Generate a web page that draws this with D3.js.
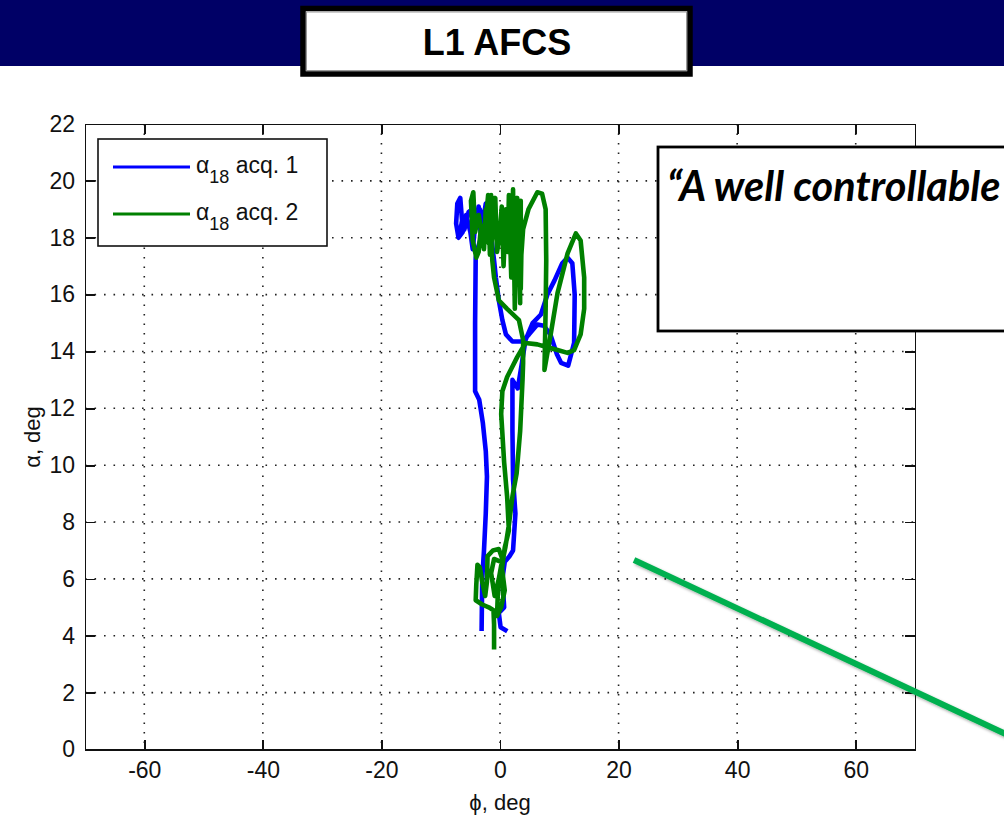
<!DOCTYPE html>
<html lang="en">
<head>
<meta charset="utf-8">
<title>L1 AFCS</title>
<script src="https://d3js.org/d3.v7.min.js"></script>
<style>
  body { margin: 0; background: #fff; }
  svg { display: block; font-family: "Liberation Sans", Arial, sans-serif; }
  .axis path, .axis line { stroke: #111; stroke-width: 1.8; shape-rendering: crispEdges; }
  .axis text { font-size: 23px; fill: #111; font-family: "Liberation Sans", Arial, sans-serif; }
  .grid line { stroke: #222; stroke-width: 1.6; stroke-dasharray: 1.6 7.9; }
</style>
</head>
<body>
<svg id="chart" width="1004" height="826"></svg>
<script>
// tick values
var xTicks = [-60, -40, -20, 0, 20, 40, 60];
var yTicks = [0, 2, 4, 6, 8, 10, 12, 14, 16, 18, 20, 22];

// series labels
var seriesNames = ["acq. 1", "acq. 2"];
var seriesColors = ["#0000ff", "#008000"];

// alpha_18 acq. 1  [phi, alpha]
var acq1 = [
  [0.9, 4.2], [0.1, 4.3], [-0.2, 4.8], [0.7, 5.0], [0.4, 6.0], [0.8, 6.6], [1.6, 6.8],
  [2.2, 7.0], [2.6, 8.3], [2.2, 9.5], [2.1, 11.2], [2.1, 13.0], [3.0, 12.7], [3.7, 13.6],
  [4.3, 14.4], [5.5, 15.0], [6.9, 15.3], [8.0, 16.0], [9.2, 16.5], [10.5, 17.1], [11.4, 17.3],
  [12.2, 17.1], [12.6, 16.0], [12.5, 14.3], [11.5, 13.5], [10.3, 13.6], [9.6, 13.9], [8.5, 14.6],
  [7.4, 14.9], [6.3, 14.95], [4.9, 14.6], [3.8, 14.35], [2.1, 14.35], [1.0, 14.6], [0.4, 15.1],
  [-0.2, 15.8], [-0.7, 16.6], [-1.0, 17.2], [-1.8, 18.6], [-2.4, 19.2], [-2.9, 18.5], [-3.4, 19.0],
  [-4.2, 18.4], [-4.6, 17.6], [-5.0, 18.2], [-5.7, 18.8], [-6.3, 18.2], [-7.0, 18.0], [-7.4, 18.5],
  [-7.2, 19.2], [-6.7, 19.4], [-6.4, 18.6], [-6.8, 18.1], [-6.0, 18.3], [-5.3, 18.9], [-4.7, 19.0],
  [-4.2, 18.4], [-3.6, 19.1], [-3.2, 18.0], [-3.8, 17.6], [-4.1, 17.3], [-4.2, 15.0], [-4.2, 12.6],
  [-3.5, 12.3], [-2.9, 11.5], [-2.4, 10.5], [-2.2, 9.6], [-2.4, 8.3], [-2.7, 7.0], [-3.0, 6.0],
  [-3.1, 4.25]
];

// alpha_18 acq. 2  [phi, alpha]
var acq2 = [
  [-1.0, 3.6], [-1.0, 4.4], [-1.1, 4.9], [-1.9, 5.0], [-3.0, 5.1], [-4.1, 5.25], [-4.0, 5.8],
  [-3.8, 6.5], [-3.4, 6.4], [-3.0, 5.9], [-2.5, 5.4], [-2.2, 5.9], [-2.1, 6.8], [-1.2, 7.0],
  [-0.2, 7.05], [0.4, 6.7], [-0.2, 6.0], [-0.9, 5.4], [-1.5, 6.2], [-1.0, 6.7], [0.2, 6.6],
  [0.8, 5.6], [0.2, 5.0], [-0.5, 4.7], [-0.3, 5.9], [0.9, 7.1], [1.5, 7.9], [2.1, 8.9],
  [2.8, 9.7], [3.4, 11.2], [3.8, 13.0], [3.9, 13.6], [3.9, 14.4], [3.2, 15.1], [1.2, 15.5],
  [-0.2, 15.8], [-1.0, 16.6], [-1.3, 17.2], [-1.6, 18.6], [-1.5, 19.5], [-1.9, 17.8], [-2.4, 19.0],
  [-2.7, 17.6], [-3.2, 18.4], [-3.6, 17.5], [-4.0, 17.3], [-4.6, 17.9], [-4.9, 19.3], [-4.5, 19.6],
  [-4.2, 18.2], [-3.6, 18.8], [-3.0, 18.1], [-2.4, 18.6], [-2.0, 19.5], [-1.7, 17.4], [-1.2, 18.2],
  [-0.8, 19.4], [-0.5, 17.5], [-0.1, 18.0], [0.3, 19.1], [0.6, 17.0], [1.0, 19.0], [1.3, 17.5],
  [1.5, 19.5], [1.9, 16.6], [2.2, 19.7], [2.5, 15.5], [2.6, 18.0], [2.9, 19.4], [3.2, 17.0],
  [3.4, 15.7], [3.3, 18.2], [3.5, 19.3], [3.5, 16.2], [3.6, 17.4], [3.9, 18.3], [4.8, 19.0],
  [6.3, 19.6], [7.1, 19.55], [7.7, 19.0], [7.8, 17.2], [7.7, 15.5], [7.5, 13.35], [8.55, 14.6],
  [9.7, 16.05], [11.4, 17.45], [12.8, 18.15], [13.6, 17.9], [14.2, 16.6], [14.2, 15.5], [13.6, 14.6],
  [12.5, 14.05], [11.4, 13.95], [9.7, 14.05], [8.0, 14.15], [6.3, 14.25], [4.3, 14.3], [2.9, 13.8],
  [1.2, 13.1], [0.4, 12.6], [0.2, 11.8], [0.7, 10.1], [1.2, 8.9], [1.5, 7.7], [0.8, 7.1],
  [0.3, 6.3], [0.5, 5.5]
];

var svg = d3.select("#chart");

// header band + title box
svg.append("rect").attr("x", 0).attr("y", 0).attr("width", 1004).attr("height", 66).attr("fill", "#000066");
svg.append("rect").attr("x", 303).attr("y", 8.5).attr("width", 387).attr("height", 65.5)
   .attr("fill", "#fff").attr("stroke", "#000").attr("stroke-width", 5.5);
svg.append("rect").attr("x", 306.5).attr("y", 12).attr("width", 380).attr("height", 58.5)
   .attr("fill", "none").attr("stroke", "#999").attr("stroke-width", 1);
svg.append("text").attr("x", 497).attr("y", 55).attr("text-anchor", "middle")
   .style("font-size", "36px").style("font-weight", "bold").text("L1 AFCS");

// plot area
var x = d3.scaleLinear().domain([-70, 70]).range([85, 915]);
var y = d3.scaleLinear().domain([0, 22]).range([749.5, 124]);
var fmt = function(d){ return String(d); };   // plain hyphen minus like matlab

var grid = svg.append("g").attr("class", "grid");
grid.selectAll(".gx").data(xTicks).enter().append("line")
    .attr("x1", function(d){ return x(d); }).attr("x2", function(d){ return x(d); })
    .attr("y1", y(22)).attr("y2", y(0));
grid.selectAll(".gy").data(yTicks.slice(1, -1)).enter().append("line")
    .attr("y1", function(d){ return y(d); }).attr("y2", function(d){ return y(d); })
    .attr("x1", x(-70)).attr("x2", x(70));

svg.append("g").attr("class", "axis")
   .attr("transform", "translate(0," + y(0) + ")")
   .call(d3.axisBottom(x).tickValues(xTicks).tickFormat(fmt).tickSizeInner(-10).tickSizeOuter(0).tickPadding(12));
svg.append("g").attr("class", "axis")
   .attr("transform", "translate(0," + y(22) + ")")
   .call(d3.axisTop(x).tickValues(xTicks).tickSizeInner(-10).tickSizeOuter(0).tickFormat(""));
svg.append("g").attr("class", "axis")
   .attr("transform", "translate(" + x(-70) + ",0)")
   .call(d3.axisLeft(y).tickValues(yTicks).tickFormat(fmt).tickSizeInner(-10).tickSizeOuter(0).tickPadding(10));
svg.append("g").attr("class", "axis")
   .attr("transform", "translate(" + x(70) + ",0)")
   .call(d3.axisRight(y).tickValues(yTicks).tickSizeInner(-10).tickSizeOuter(0).tickFormat(""));

// axis labels
svg.append("text").attr("x", 500).attr("y", 810).attr("text-anchor", "middle")
   .style("font-size", "22px").attr("fill", "#111").text("\u03d5, deg");
svg.append("text").attr("transform", "translate(40,437) rotate(-90)").attr("text-anchor", "middle")
   .style("font-size", "22px").attr("fill", "#111").text("\u03b1, deg");

// series
var line = d3.line().x(function(d){ return x(d[0]); }).y(function(d){ return y(d[1]); });
[acq1, acq2].forEach(function(s, i){
  svg.append("path").datum(s).attr("d", line)
     .attr("fill", "none").attr("stroke", seriesColors[i]).attr("stroke-width", 4.6)
     .attr("stroke-linejoin", "round").attr("stroke-linecap", "square");
});

// legend
var lg = svg.append("g");
lg.append("rect").attr("x", 98).attr("y", 139).attr("width", 229).attr("height", 107)
  .attr("fill", "#fff").attr("stroke", "#111").attr("stroke-width", 1.6);
seriesNames.forEach(function(name, i){
  var ly = 167 + i * 47;
  lg.append("line").attr("x1", 113).attr("x2", 190).attr("y1", ly).attr("y2", ly)
    .attr("stroke", seriesColors[i]).attr("stroke-width", 3);
  var t = lg.append("text").attr("x", 196).attr("y", ly + 6).style("font-size", "23px").attr("fill", "#111");
  t.append("tspan").text("\u03b1");
  t.append("tspan").attr("dy", 10).style("font-size", "18px").text("18");
  t.append("tspan").attr("dy", -10).text(" " + name);
});

// callout box
svg.append("rect").attr("x", 658).attr("y", 147).attr("width", 360).attr("height", 184)
   .attr("fill", "#fff").attr("stroke", "#000").attr("stroke-width", 2.8);
svg.append("text").attr("x", 667).attr("y", 201)
   .style("font-family", "Lato, 'Open Sans', sans-serif").style("font-size", "41.5px")
   .style("font-weight", "bold").style("font-style", "italic").attr("fill", "#000")
   .text("\u201cA well controllable");

// green arrow line
var defs = svg.append("defs");
var f = defs.append("filter").attr("id", "sh").attr("x", "-10%").attr("y", "-10%").attr("width", "130%").attr("height", "130%");
f.append("feDropShadow").attr("dx", 2).attr("dy", 2).attr("stdDeviation", 1.5).attr("flood-color", "#000").attr("flood-opacity", 0.35);
svg.append("line").attr("x1", 634).attr("y1", 560).attr("x2", 1010).attr("y2", 736)
   .attr("stroke", "#00b050").attr("stroke-width", 6).attr("filter", "url(#sh)");
</script>
</body>
</html>
